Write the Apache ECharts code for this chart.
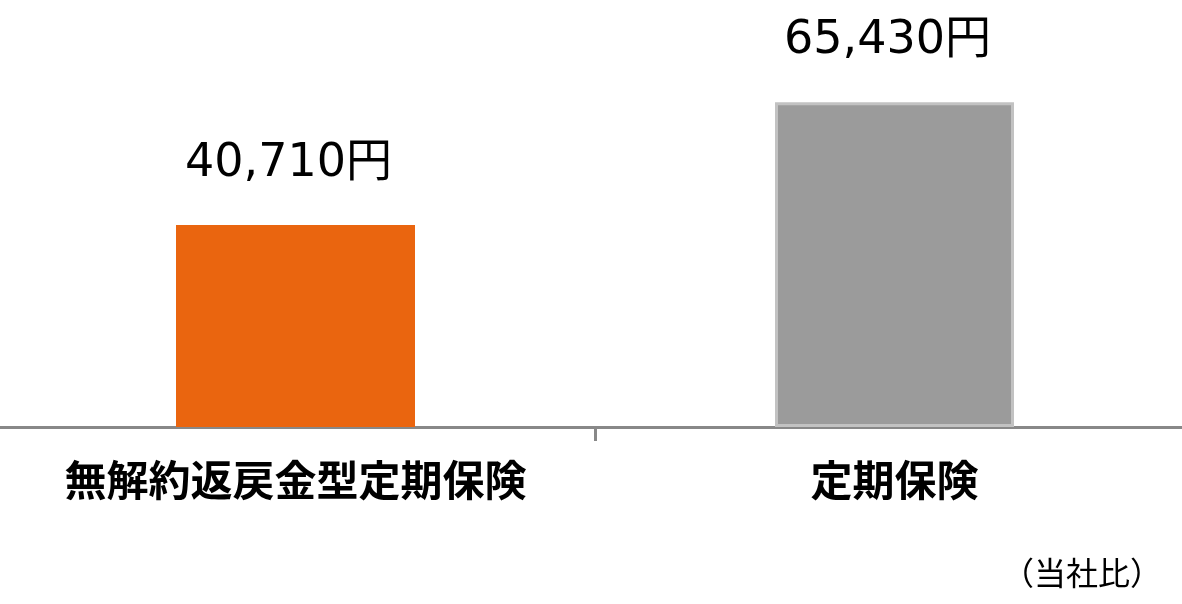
<!DOCTYPE html>
<html><head><meta charset="utf-8">
<script src="https://cdn.jsdelivr.net/npm/echarts@6/dist/echarts.min.js"></script>
<style>html,body{margin:0;padding:0;background:#fff}#c{width:1182px;height:604px}</style>
</head><body><div id="c"></div>
<script>
const categories = ['無解約返戻金型定期保険', '定期保険'];
const values = [40710, 65430];
const barColors = ['#EA650F', '#9B9B9B'];
const note = '（当社比）';
const chart = echarts.init(document.getElementById('c'));
const F = '"Noto Sans CJK JP", sans-serif';
const FV = '"DejaVu Sans", "Noto Sans CJK JP", sans-serif';
chart.setOption({
  animation: false,
  grid: { left: -4, right: -12, top: 20, bottom: 177, containLabel: false, outerBoundsMode: 'none' },
  xAxis: {
    type: 'category', data: categories,
    axisLine: { lineStyle: { color: '#888', width: 3 } },
    axisTick: { show: true, interval: 0, length: 14, lineStyle: { color: '#888', width: 3 } },
    axisLabel: { interval: 0, hideOverlap: false, color: '#000', fontFamily: F, fontWeight: 'bold', fontSize: 42, margin: 32 }
  },
  yAxis: { type: 'value', min: 0, max: 82000, show: false, splitLine: { show: false } },
  series: [{
    type: 'bar', barWidth: 239,
    data: values.map((v, i) => ({
      value: v,
      itemStyle: i === 1 ? { color: barColors[i], borderColor: '#C2C2C2', borderWidth: 3 } : { color: barColors[i] }
    })),
    label: {
      show: true, position: 'top', distance: 38, offset: [-7, 0], color: '#000',
      fontFamily: FV, fontSize: 46,
      formatter: p => p.value.toLocaleString('en-US') + '円'
    }
  }],
  graphic: [{
    type: 'text', right: 20, top: 557,
    style: { text: note, fill: '#000', font: '32px ' + F }
  }]
});
</script></body></html>
